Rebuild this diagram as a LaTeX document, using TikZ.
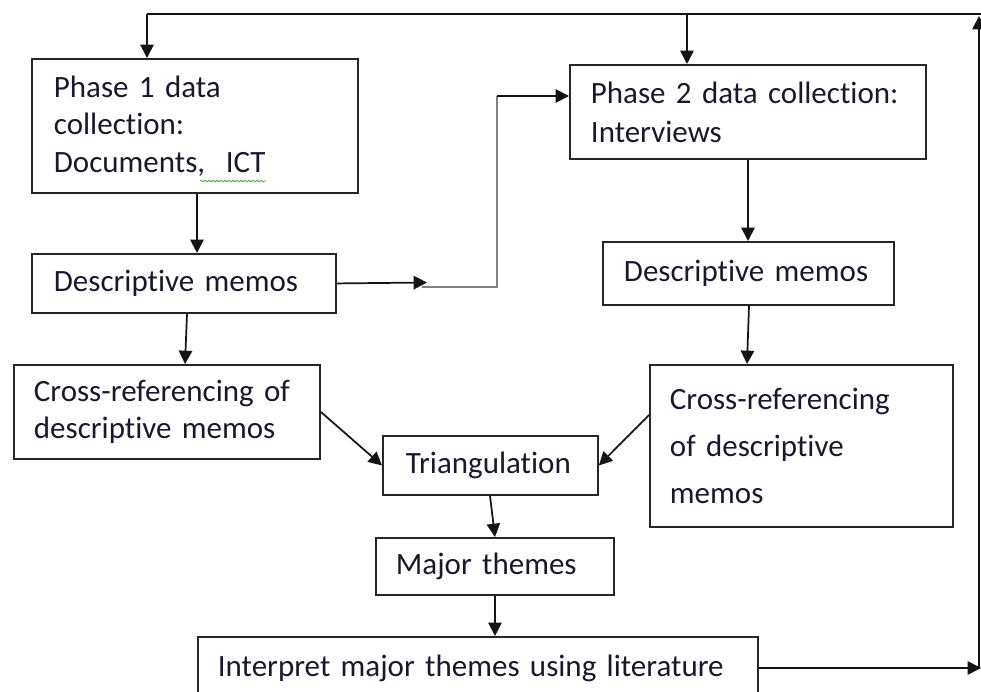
\documentclass[tikz,border=0pt]{standalone}
\usepackage{fontspec}
\setmainfont{Carlito}[Ligatures=NoCommon]
\usetikzlibrary{arrows.meta,decorations.pathmorphing}
\definecolor{boxc}{RGB}{38,38,38}
\definecolor{linec}{RGB}{20,20,20}
\definecolor{txtc}{RGB}{25,25,45}
\definecolor{grayc}{RGB}{128,128,128}
\definecolor{squig}{RGB}{90,170,90}
\begin{document}
\begin{tikzpicture}[x=0.75pt,y=-0.75pt,
  box/.style={draw=boxc, line width=1.4pt, rectangle, anchor=north west,
    inner ysep=0pt, align=left, text=txtc},
  fnt/.style={font=\fontsize{23.25pt}{#1}\selectfont},
  conn/.style={draw=linec, line width=1.3pt, -{Triangle[length=10pt,width=10pt]}},
  plain/.style={draw=linec, line width=1.3pt},
  grayline/.style={draw=grayc, line width=2.2pt}
  ]
\useasboundingbox (0,0) rectangle (981,692);

\node[box, fnt=28pt, minimum width=244.5pt, minimum height=100.5pt, inner xsep=16.5pt, text width=211.5pt]
  (p1) at (31,58) {Phase 1 data\\collection:\\Documents,\ \ ICT};
\node[box, fnt=28pt, minimum width=228pt, minimum height=44.25pt, inner xsep=16.5pt, text width=195pt]
  (d1) at (31,253) {Descriptive memos};
\node[box, fnt=27.75pt, minimum width=229.5pt, minimum height=70.5pt, inner xsep=15pt, text width=199.5pt]
  (c1) at (13,364) {Cross-referencing of\\descriptive memos};
\node[box, fnt=29.25pt, minimum width=267pt, minimum height=70.5pt, inner xsep=15.75pt, text width=235.5pt]
  (p2) at (569,64) {Phase 2 data collection:\\Interviews};
\node[box, fnt=28pt, minimum width=218.25pt, minimum height=47.25pt, inner xsep=15.75pt, text width=186.75pt]
  (d2) at (602,241) {Descriptive memos};
\node[box, fnt=35.25pt, minimum width=227.25pt, minimum height=121.5pt, inner xsep=15pt, text width=197.25pt]
  (c2) at (649,364) {Cross-referencing\\of descriptive\\memos};
\node[box, fnt=28pt, minimum width=161.25pt, minimum height=44.25pt, inner xsep=17.25pt, text width=126.75pt]
  (tri) at (382,435) {Triangulation};
\node[box, fnt=28pt, minimum width=178.5pt, minimum height=42.75pt, inner xsep=15pt, text width=148.5pt]
  (maj) at (375,537) {Major themes};
\node[box, fnt=28pt, minimum width=420pt, minimum height=46.5pt, inner xsep=15pt, text width=390pt]
  (int) at (197,636) {Interpret major themes using literature};

% grammar squiggle under ", ICT"
\draw[squig, line width=0.6pt, decorate, decoration={snake, amplitude=0.7pt, segment length=3pt}]
  (200,181) -- (266,181);

% feedback loop
\coordinate (tl) at (147,14);
\coordinate (tm) at (687,14);
\coordinate (tr) at (981,14);
\coordinate (br) at (981,668);
\coordinate (rt) at (979,16);
\draw[plain] (tr) -- (tl);
\draw[conn] (tl) -- (tl |- p1.north);
\draw[conn] (tm) -- (tm |- p2.north);
\draw[conn] (int.east) -- (br);
\draw[conn] (979,0 |- br) -- (rt);

% phase 1 chain
\draw[conn] (197,0 |- p1.south) -- (197,0 |- d1.north);
\draw[conn] (187,0 |- d1.south) -- (185,0 |- c1.north);
\coordinate (mid) at (427,282.5);
\coordinate (g1) at (422,287);
\coordinate (g2) at (497,96);
\draw[conn] (d1.east) -- (mid);
\draw[grayline] (g1) -- (497,287) -- (g2);
\draw[conn] (g2) -- (g2 -| p2.west);

% phase 2 chain
\draw[conn] (748,0 |- p2.south) -- (748,0 |- d2.north);
\draw[conn] (749,0 |- d2.south) -- (747,0 |- c2.north);

% merge
\draw[conn] (c1.east) -- (tri.west);
\draw[conn] (c2.west |- 0,415) -- (tri.east);
\draw[conn] (490,0 |- tri.south) -- (495,0 |- maj.north);
\draw[conn] (495,0 |- maj.south) -- (495,0 |- int.north);
\end{tikzpicture}
\end{document}
